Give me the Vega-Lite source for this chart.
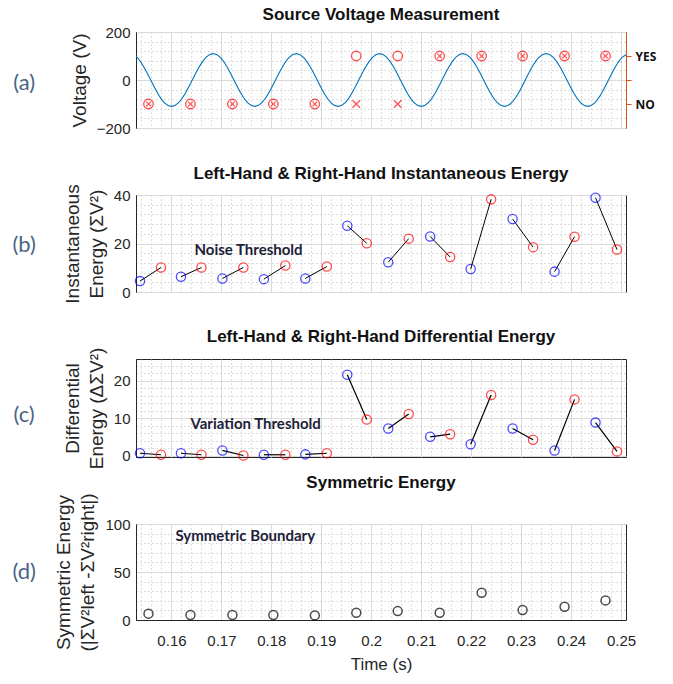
{
  "$schema": "https://vega.github.io/schema/vega-lite/v6.json",
  "padding": {"left": 11, "top": 5, "right": 6, "bottom": 6},
  "spacing": 67,
  "bounds": "flush",
  "datasets": {
    "sine": [
      {"t": 0.15167, "v": 110}, {"t": 0.15306, "v": 95.3}, {"t": 0.15445, "v": 55}, {"t": 0.15584, "v": 0},
      {"t": 0.15723, "v": -55}, {"t": 0.15861, "v": -95.3}, {"t": 0.16000, "v": -110}, {"t": 0.16139, "v": -95.3},
      {"t": 0.16278, "v": -55}, {"t": 0.16417, "v": 0}, {"t": 0.16556, "v": 55}, {"t": 0.16695, "v": 95.3},
      {"t": 0.16834, "v": 110}, {"t": 0.16973, "v": 95.3}, {"t": 0.17111, "v": 55}, {"t": 0.17250, "v": 0},
      {"t": 0.17389, "v": -55}, {"t": 0.17528, "v": -95.3}, {"t": 0.17667, "v": -110}, {"t": 0.17806, "v": -95.3},
      {"t": 0.17945, "v": -55}, {"t": 0.18084, "v": 0}, {"t": 0.18223, "v": 55}, {"t": 0.18361, "v": 95.3},
      {"t": 0.18500, "v": 110}, {"t": 0.18639, "v": 95.3}, {"t": 0.18778, "v": 55}, {"t": 0.18917, "v": 0},
      {"t": 0.19056, "v": -55}, {"t": 0.19195, "v": -95.3}, {"t": 0.19334, "v": -110}, {"t": 0.19473, "v": -95.3},
      {"t": 0.19611, "v": -55}, {"t": 0.19750, "v": 0}, {"t": 0.19889, "v": 55}, {"t": 0.20028, "v": 95.3},
      {"t": 0.20167, "v": 110}, {"t": 0.20306, "v": 95.3}, {"t": 0.20445, "v": 55}, {"t": 0.20584, "v": 0},
      {"t": 0.20723, "v": -55}, {"t": 0.20861, "v": -95.3}, {"t": 0.21000, "v": -110}, {"t": 0.21139, "v": -95.3},
      {"t": 0.21278, "v": -55}, {"t": 0.21417, "v": 0}, {"t": 0.21556, "v": 55}, {"t": 0.21695, "v": 95.3},
      {"t": 0.21834, "v": 110}, {"t": 0.21973, "v": 95.3}, {"t": 0.22111, "v": 55}, {"t": 0.22250, "v": 0},
      {"t": 0.22389, "v": -55}, {"t": 0.22528, "v": -95.3}, {"t": 0.22667, "v": -110}, {"t": 0.22806, "v": -95.3},
      {"t": 0.22945, "v": -55}, {"t": 0.23084, "v": 0}, {"t": 0.23223, "v": 55}, {"t": 0.23361, "v": 95.3},
      {"t": 0.23500, "v": 110}, {"t": 0.23639, "v": 95.3}, {"t": 0.23778, "v": 55}, {"t": 0.23917, "v": 0},
      {"t": 0.24056, "v": -55}, {"t": 0.24195, "v": -95.3}, {"t": 0.24334, "v": -110}, {"t": 0.24473, "v": -95.3},
      {"t": 0.24611, "v": -55}, {"t": 0.24750, "v": 0}, {"t": 0.24889, "v": 55}, {"t": 0.25028, "v": 95.3},
      {"t": 0.25167, "v": 110}
    ],
    "decisions": [
      {"t": 0.1554, "v": -100, "marker": "otimes"},
      {"t": 0.1638, "v": -100, "marker": "otimes"},
      {"t": 0.1722, "v": -100, "marker": "otimes"},
      {"t": 0.1804, "v": -100, "marker": "otimes"},
      {"t": 0.1887, "v": -100, "marker": "otimes"},
      {"t": 0.1970, "v": 100, "marker": "o"},
      {"t": 0.1970, "v": -100, "marker": "x"},
      {"t": 0.2053, "v": 100, "marker": "o"},
      {"t": 0.2053, "v": -100, "marker": "x"},
      {"t": 0.2137, "v": 100, "marker": "otimes"},
      {"t": 0.2221, "v": 100, "marker": "otimes"},
      {"t": 0.2303, "v": 100, "marker": "otimes"},
      {"t": 0.2387, "v": 100, "marker": "otimes"},
      {"t": 0.2469, "v": 100, "marker": "otimes"}
    ],
    "inst": [
      {"pair": 1, "side": "left", "t": 0.1537, "e": 4.5}, {"pair": 1, "side": "right", "t": 0.1579, "e": 10.1},
      {"pair": 2, "side": "left", "t": 0.1619, "e": 6.3}, {"pair": 2, "side": "right", "t": 0.1660, "e": 10.1},
      {"pair": 3, "side": "left", "t": 0.1702, "e": 5.6}, {"pair": 3, "side": "right", "t": 0.1744, "e": 10.1},
      {"pair": 4, "side": "left", "t": 0.1785, "e": 5.3}, {"pair": 4, "side": "right", "t": 0.1828, "e": 10.9},
      {"pair": 5, "side": "left", "t": 0.1868, "e": 5.6}, {"pair": 5, "side": "right", "t": 0.1911, "e": 10.5},
      {"pair": 6, "side": "left", "t": 0.1952, "e": 27.3}, {"pair": 6, "side": "right", "t": 0.1991, "e": 20.1},
      {"pair": 7, "side": "left", "t": 0.2034, "e": 12.3}, {"pair": 7, "side": "right", "t": 0.2075, "e": 22.0},
      {"pair": 8, "side": "left", "t": 0.2118, "e": 22.9}, {"pair": 8, "side": "right", "t": 0.2158, "e": 14.4},
      {"pair": 9, "side": "left", "t": 0.2199, "e": 9.5}, {"pair": 9, "side": "right", "t": 0.2240, "e": 38.2},
      {"pair": 10, "side": "left", "t": 0.2283, "e": 30.1}, {"pair": 10, "side": "right", "t": 0.2324, "e": 18.5},
      {"pair": 11, "side": "left", "t": 0.2367, "e": 8.4}, {"pair": 11, "side": "right", "t": 0.2407, "e": 22.8},
      {"pair": 12, "side": "left", "t": 0.2449, "e": 38.9}, {"pair": 12, "side": "right", "t": 0.2492, "e": 17.5}
    ],
    "diff": [
      {"pair": 1, "side": "left", "t": 0.1537, "d": 0.6}, {"pair": 1, "side": "right", "t": 0.1579, "d": 0.2},
      {"pair": 2, "side": "left", "t": 0.1619, "d": 0.6}, {"pair": 2, "side": "right", "t": 0.1660, "d": 0.2},
      {"pair": 3, "side": "left", "t": 0.1702, "d": 1.35}, {"pair": 3, "side": "right", "t": 0.1744, "d": 0.0},
      {"pair": 4, "side": "left", "t": 0.1785, "d": 0.2}, {"pair": 4, "side": "right", "t": 0.1828, "d": 0.2},
      {"pair": 5, "side": "left", "t": 0.1868, "d": 0.3}, {"pair": 5, "side": "right", "t": 0.1911, "d": 0.6},
      {"pair": 6, "side": "left", "t": 0.1952, "d": 21.6}, {"pair": 6, "side": "right", "t": 0.1991, "d": 9.6},
      {"pair": 7, "side": "left", "t": 0.2034, "d": 7.2}, {"pair": 7, "side": "right", "t": 0.2075, "d": 11.1},
      {"pair": 8, "side": "left", "t": 0.2118, "d": 5.0}, {"pair": 8, "side": "right", "t": 0.2158, "d": 5.7},
      {"pair": 9, "side": "left", "t": 0.2199, "d": 3.0}, {"pair": 9, "side": "right", "t": 0.2240, "d": 16.2},
      {"pair": 10, "side": "left", "t": 0.2283, "d": 7.2}, {"pair": 10, "side": "right", "t": 0.2324, "d": 4.2},
      {"pair": 11, "side": "left", "t": 0.2367, "d": 1.35}, {"pair": 11, "side": "right", "t": 0.2407, "d": 15.0},
      {"pair": 12, "side": "left", "t": 0.2449, "d": 8.8}, {"pair": 12, "side": "right", "t": 0.2492, "d": 1.1}
    ],
    "sym": [
      {"t": 0.1554, "s": 6.6}, {"t": 0.1638, "s": 5.2}, {"t": 0.1722, "s": 5.2}, {"t": 0.1804, "s": 5.2},
      {"t": 0.1887, "s": 4.8}, {"t": 0.1970, "s": 7.6}, {"t": 0.2053, "s": 9.3}, {"t": 0.2137, "s": 7.6},
      {"t": 0.2221, "s": 28.4}, {"t": 0.2303, "s": 10.4}, {"t": 0.2387, "s": 13.8}, {"t": 0.2469, "s": 20.4}
    ]
  },
  "vconcat": [
    {
      "title": {"text": "Source Voltage Measurement"},
      "width": 490, "height": 96,
      "resolve": {"axis": {"x": "independent", "y": "independent"}},
      "layer": [
        {
          "data": {"name": "sine"},
          "mark": {"type": "line", "color": "#0072BD", "strokeWidth": 1.1, "interpolate": "natural", "clip": true},
          "encoding": {
            "x": {"field": "t", "type": "quantitative", "scale": {"domain": [0.1529, 0.251], "nice": false, "zero": false},
                  "axis": {"orient": "bottom", "values": [0.16, 0.17, 0.18, 0.19, 0.2, 0.21, 0.22, 0.23, 0.24, 0.25], "grid": true, "labels": false, "ticks": false, "domain": false, "title": null}},
            "y": {"field": "v", "type": "quantitative", "scale": {"domain": [-200, 200], "nice": false},
                  "axis": {"orient": "left", "values": [-200, 0, 200], "grid": true, "ticks": false, "title": "Voltage (V)"}}
          }
        },
        {
          "data": {"name": "decisions"},
          "transform": [{"filter": "datum.marker != 'x'"}],
          "mark": {"type": "point", "shape": "circle", "filled": false, "color": "#ff0000", "size": 90, "strokeWidth": 1.3},
          "encoding": {
            "x": {"field": "t", "type": "quantitative",
                  "axis": {"orient": "bottom", "values": [0.154,0.156,0.158,0.162,0.164,0.166,0.168,0.172,0.174,0.176,0.178,0.182,0.184,0.186,0.188,0.192,0.194,0.196,0.198,0.202,0.204,0.206,0.208,0.212,0.214,0.216,0.218,0.222,0.224,0.226,0.228,0.232,0.234,0.236,0.238,0.242,0.244,0.246,0.248], "grid": true, "gridDash": [1, 3], "gridColor": "#bdbdbd", "labels": false, "ticks": false, "domain": false, "title": null}},
            "y": {"field": "v", "type": "quantitative",
                  "axis": {"orient": "left", "values": [-160, -120, -80, -40, 40, 80, 120, 160], "grid": true, "gridDash": [1, 3], "gridColor": "#bdbdbd", "labels": false, "ticks": false, "domain": false, "title": null}}
          }
        },
        {
          "data": {"name": "decisions"},
          "transform": [{"filter": "datum.marker == 'otimes'"}],
          "mark": {"type": "point", "shape": "M-0.5,-0.5L0.5,0.5M0.5,-0.5L-0.5,0.5", "filled": false, "color": "#ff0000", "size": 90, "strokeWidth": 1.2},
          "encoding": {
            "x": {"field": "t", "type": "quantitative", "axis": null},
            "y": {"field": "v", "type": "quantitative",
                  "axis": {"orient": "right", "values": [-100, 0, 100], "labelExpr": "datum.value == 100 ? 'YES' : datum.value == -100 ? 'NO' : ''", "grid": false, "domainColor": "#D95319", "tickColor": "#D95319", "tickSize": 5, "labelPadding": 4, "labelFont": "Open Sans", "labelFontWeight": "bold", "labelFontSize": 12, "labelColor": "#111111", "title": null}}
          }
        },
        {
          "data": {"name": "decisions"},
          "transform": [{"filter": "datum.marker == 'x'"}],
          "mark": {"type": "point", "shape": "M-0.8,-0.8L0.8,0.8M0.8,-0.8L-0.8,0.8", "filled": false, "color": "#ff0000", "size": 90, "strokeWidth": 1.2},
          "encoding": {
            "x": {"field": "t", "type": "quantitative", "axis": null},
            "y": {"field": "v", "type": "quantitative", "axis": null}
          }
        },
        {
          "data": {"values": [{"label": "(a)"}]},
          "mark": {"type": "text", "align": "center", "baseline": "middle", "font": "Lato", "fontSize": 22, "color": "#4a6385"},
          "encoding": {
            "text": {"field": "label"},
            "x": {"datum": 0.1305, "type": "quantitative", "axis": null},
            "y": {"datum": -12, "type": "quantitative", "axis": null}
          }
        }
      ]
    },
    {
      "title": {"text": "Left-Hand & Right-Hand Instantaneous Energy"},
      "width": 490, "height": 97,
      "resolve": {"axis": {"x": "independent", "y": "independent"}},
      "layer": [
        {
          "mark": {"type": "rule", "color": "#00ff00", "strokeWidth": 3},
          "encoding": {"y": {"datum": 12.5, "type": "quantitative", "axis": null, "scale": {"domain": [0, 40], "nice": false}}}
        },
        {
          "data": {"name": "inst"},
          "mark": {"type": "line", "color": "#000000", "strokeWidth": 1},
          "encoding": {
            "x": {"field": "t", "type": "quantitative", "scale": {"domain": [0.1529, 0.251], "nice": false, "zero": false},
                  "axis": {"orient": "bottom", "values": [0.16, 0.17, 0.18, 0.19, 0.2, 0.21, 0.22, 0.23, 0.24, 0.25], "grid": true, "labels": false, "ticks": false, "domain": false, "title": null}},
            "y": {"field": "e", "type": "quantitative",
                  "axis": {"orient": "left", "values": [0, 20, 40], "grid": true, "ticks": false, "title": ["Instantaneous", "Energy (ΣV²)"]}},
            "detail": {"field": "pair"}
          }
        },
        {
          "data": {"name": "inst"},
          "mark": {"type": "point", "shape": "circle", "filled": false, "size": 85, "strokeWidth": 1.3},
          "encoding": {
            "x": {"field": "t", "type": "quantitative",
                  "axis": {"orient": "bottom", "values": [0.154,0.156,0.158,0.162,0.164,0.166,0.168,0.172,0.174,0.176,0.178,0.182,0.184,0.186,0.188,0.192,0.194,0.196,0.198,0.202,0.204,0.206,0.208,0.212,0.214,0.216,0.218,0.222,0.224,0.226,0.228,0.232,0.234,0.236,0.238,0.242,0.244,0.246,0.248], "grid": true, "gridDash": [1, 3], "gridColor": "#bdbdbd", "labels": false, "ticks": false, "domain": false, "title": null}},
            "y": {"field": "e", "type": "quantitative",
                  "axis": {"orient": "left", "values": [4, 8, 12, 16, 24, 28, 32, 36], "grid": true, "gridDash": [1, 3], "gridColor": "#bdbdbd", "labels": false, "ticks": false, "domain": false, "title": null}},
            "color": {"field": "side", "type": "nominal", "scale": {"domain": ["left", "right"], "range": ["#0000ff", "#ff0000"]}, "legend": null}
          }
        },
        {
          "data": {"values": [{"label": "Noise Threshold"}]},
          "mark": {"type": "text", "align": "left", "baseline": "alphabetic", "font": "Lato", "fontWeight": "bold", "fontSize": 15, "color": "#1c2238"},
          "encoding": {
            "text": {"field": "label"},
            "x": {"datum": 0.1646, "type": "quantitative", "axis": null},
            "y": {"datum": 15.3, "type": "quantitative", "axis": null}
          }
        },
        {
          "data": {"values": [{"label": "(b)"}]},
          "mark": {"type": "text", "align": "center", "baseline": "middle", "font": "Lato", "fontSize": 22, "color": "#4a6385"},
          "encoding": {
            "text": {"field": "label"},
            "x": {"datum": 0.1305, "type": "quantitative", "axis": null},
            "y": {"datum": 19.5, "type": "quantitative", "axis": null}
          }
        }
      ]
    },
    {
      "title": {"text": "Left-Hand & Right-Hand Differential Energy"},
      "width": 490, "height": 98,
      "resolve": {"axis": {"x": "independent", "y": "independent"}},
      "layer": [
        {
          "mark": {"type": "rule", "color": "#00ff00", "strokeWidth": 3},
          "encoding": {"y": {"datum": 5, "type": "quantitative", "axis": null, "scale": {"domain": [-0.4, 25.8], "nice": false, "zero": false}}}
        },
        {
          "data": {"name": "diff"},
          "mark": {"type": "line", "color": "#000000", "strokeWidth": 1.2},
          "encoding": {
            "x": {"field": "t", "type": "quantitative", "scale": {"domain": [0.1529, 0.251], "nice": false, "zero": false},
                  "axis": {"orient": "bottom", "values": [0.16, 0.17, 0.18, 0.19, 0.2, 0.21, 0.22, 0.23, 0.24, 0.25], "grid": true, "labels": false, "ticks": false, "domain": false, "title": null}},
            "y": {"field": "d", "type": "quantitative",
                  "axis": {"orient": "left", "values": [0, 10, 20], "grid": true, "ticks": false, "title": ["Differential", "Energy (ΔΣV²)"]}},
            "detail": {"field": "pair"}
          }
        },
        {
          "data": {"name": "diff"},
          "mark": {"type": "point", "shape": "circle", "filled": false, "size": 85, "strokeWidth": 1.3},
          "encoding": {
            "x": {"field": "t", "type": "quantitative",
                  "axis": {"orient": "bottom", "values": [0.154,0.156,0.158,0.162,0.164,0.166,0.168,0.172,0.174,0.176,0.178,0.182,0.184,0.186,0.188,0.192,0.194,0.196,0.198,0.202,0.204,0.206,0.208,0.212,0.214,0.216,0.218,0.222,0.224,0.226,0.228,0.232,0.234,0.236,0.238,0.242,0.244,0.246,0.248], "grid": true, "gridDash": [1, 3], "gridColor": "#bdbdbd", "labels": false, "ticks": false, "domain": false, "title": null}},
            "y": {"field": "d", "type": "quantitative",
                  "axis": {"orient": "left", "values": [2, 4, 6, 8, 12, 14, 16, 18, 22, 24], "grid": true, "gridDash": [1, 3], "gridColor": "#bdbdbd", "labels": false, "ticks": false, "domain": false, "title": null}},
            "color": {"field": "side", "type": "nominal", "scale": {"domain": ["left", "right"], "range": ["#0000ff", "#ff0000"]}, "legend": null}
          }
        },
        {
          "data": {"values": [{"label": "Variation Threshold"}]},
          "mark": {"type": "text", "align": "left", "baseline": "alphabetic", "font": "Lato", "fontWeight": "bold", "fontSize": 15, "color": "#1c2238"},
          "encoding": {
            "text": {"field": "label"},
            "x": {"datum": 0.1638, "type": "quantitative", "axis": null},
            "y": {"datum": 7.0, "type": "quantitative", "axis": null}
          }
        },
        {
          "data": {"values": [{"label": "(c)"}]},
          "mark": {"type": "text", "align": "center", "baseline": "middle", "font": "Lato", "fontSize": 22, "color": "#4a6385"},
          "encoding": {
            "text": {"field": "label"},
            "x": {"datum": 0.1305, "type": "quantitative", "axis": null},
            "y": {"datum": 10.8, "type": "quantitative", "axis": null}
          }
        }
      ]
    },
    {
      "title": {"text": "Symmetric Energy"},
      "width": 490, "height": 96,
      "resolve": {"axis": {"x": "independent", "y": "independent"}},
      "layer": [
        {
          "data": {"name": "sym"},
          "mark": {"type": "point", "shape": "circle", "filled": false, "color": "#000000", "size": 80, "strokeWidth": 1.5},
          "encoding": {
            "x": {"field": "t", "type": "quantitative", "scale": {"domain": [0.1529, 0.251], "nice": false, "zero": false},
                  "axis": {"orient": "bottom", "values": [0.16, 0.17, 0.18, 0.19, 0.2, 0.21, 0.22, 0.23, 0.24, 0.25], "format": ".2~f", "grid": true, "ticks": false, "labelPadding": 13, "title": "Time (s)", "titlePadding": 8}},
            "y": {"field": "s", "type": "quantitative", "scale": {"domain": [0, 100], "nice": false},
                  "axis": {"orient": "left", "values": [0, 50, 100], "grid": true, "ticks": false, "title": ["Symmetric Energy", "(|ΣV²left -ΣV²right|)"]}}
          }
        },
        {
          "data": {"name": "sym"},
          "mark": {"type": "point", "opacity": 0},
          "encoding": {
            "x": {"field": "t", "type": "quantitative",
                  "axis": {"orient": "bottom", "values": [0.154,0.156,0.158,0.162,0.164,0.166,0.168,0.172,0.174,0.176,0.178,0.182,0.184,0.186,0.188,0.192,0.194,0.196,0.198,0.202,0.204,0.206,0.208,0.212,0.214,0.216,0.218,0.222,0.224,0.226,0.228,0.232,0.234,0.236,0.238,0.242,0.244,0.246,0.248], "grid": true, "gridDash": [1, 3], "gridColor": "#bdbdbd", "labels": false, "ticks": false, "domain": false, "title": null}},
            "y": {"field": "s", "type": "quantitative",
                  "axis": {"orient": "left", "values": [10, 20, 30, 40, 60, 70, 80, 90], "grid": true, "gridDash": [1, 3], "gridColor": "#bdbdbd", "labels": false, "ticks": false, "domain": false, "title": null}}
          }
        },
        {
          "mark": {"type": "rule", "color": "#00ff00", "strokeWidth": 3},
          "encoding": {"y": {"datum": 100, "type": "quantitative", "axis": null}}
        },
        {
          "data": {"values": [{"label": "Symmetric Boundary"}]},
          "mark": {"type": "text", "align": "left", "baseline": "alphabetic", "font": "Lato", "fontWeight": "bold", "fontSize": 15, "color": "#1c2238"},
          "encoding": {
            "text": {"field": "label"},
            "x": {"datum": 0.1608, "type": "quantitative", "axis": null},
            "y": {"datum": 82, "type": "quantitative", "axis": null}
          }
        },
        {
          "data": {"values": [{"label": "(d)"}]},
          "mark": {"type": "text", "align": "center", "baseline": "middle", "font": "Lato", "fontSize": 22, "color": "#4a6385"},
          "encoding": {
            "text": {"field": "label"},
            "x": {"datum": 0.1305, "type": "quantitative", "axis": null},
            "y": {"datum": 50, "type": "quantitative", "axis": null}
          }
        }
      ]
    }
  ],
  "config": {
    "font": "Liberation Sans",
    "view": {"stroke": "#262626", "strokeWidth": 1},
    "axis": {
      "labelFont": "Liberation Sans",
      "labelFontSize": 15, "labelColor": "#262626", "labelPadding": 6,
      "titleFont": "Liberation Sans", "titleFontSize": 19, "titleFontWeight": "normal", "titleColor": "#262626",
      "titlePadding": 7, "titleLineHeight": 24,
      "gridColor": "#dadada", "domainColor": "#262626", "tickColor": "#262626"
    },
    "axisX": {"titleFontSize": 17},
    "title": {"font": "Liberation Sans", "fontSize": 17, "fontWeight": "bold", "color": "#111111", "offset": 1, "frame": "group"}
  }
}
